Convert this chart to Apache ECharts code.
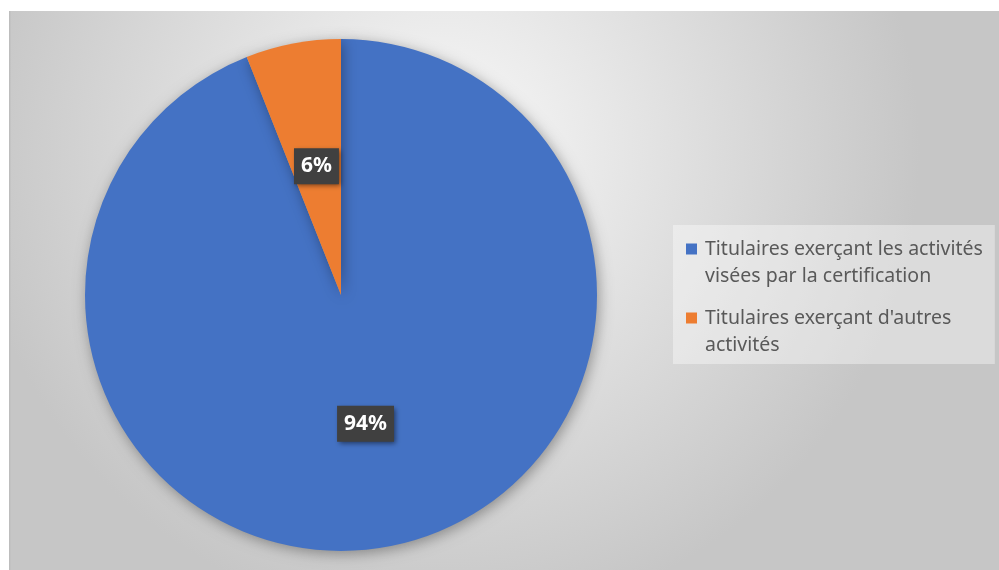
<!DOCTYPE html>
<html>
<head>
<meta charset="utf-8">
<script src="https://cdn.jsdelivr.net/npm/echarts@6/dist/echarts.min.js"></script>
<style>
html,body{margin:0;padding:0;background:#ffffff;}
#chart{width:999px;height:570px;}
</style>
</head>
<body>
<div id="chart"></div>
<script>
const categories = ['Titulaires exerçant les activités visées par la certification', "Titulaires exerçant d'autres activités"];
const legendLines = [['Titulaires exerçant les activités', 'visées par la certification'], ["Titulaires exerçant d'autres", 'activités']];
const values = [94, 6];
const colors = ['#4472c4', '#ed7d31'];

const chart = echarts.init(document.getElementById('chart'));
const FONT = '"Noto Sans", "Open Sans", sans-serif';

const option = {
  animation: false,
  graphic: [
    {
      type: 'rect', silent: true, z: -100,
      shape: { x: 9, y: 11, width: 990, height: 559 },
      style: {
        fill: new echarts.graphic.RadialGradient(0.44, 0.25, 0.85, [
          { offset: 0, color: '#f9f9f9' },
          { offset: 1, color: '#c6c6c6' }
        ])
      }
    },
    {
      type: 'rect', silent: true, z: -99,
      shape: { x: 9, y: 11, width: 1.5, height: 559 },
      style: { fill: '#bdbdbd' }
    }
  ],
  legend: {
    orient: 'vertical',
    left: 673,
    top: 225,
    padding: [14, 12, 9, 8],
    itemGap: 22,
    icon: 'none',
    itemWidth: 0,
    itemHeight: 0,
    backgroundColor: 'rgba(255,255,255,0.38)',
    selectedMode: false,
    data: categories,
    formatter: function (name) {
      const i = categories.indexOf(name);
      const l = legendLines[i];
      return '{m' + i + '|}{g|}{t|' + l[0] + '}\n{sp|}{t|' + l[1] + '}';
    },
    textStyle: {
      fontFamily: FONT,
      fontSize: 19.5,
      color: '#595959',
      rich: {
        m0: { width: 11, height: 11, backgroundColor: colors[0] },
        m1: { width: 11, height: 11, backgroundColor: colors[1] },
        g: { width: 8 },
        sp: { width: 19 },
        t: { fontFamily: FONT, fontSize: 19.5, color: '#595959', lineHeight: 27 }
      }
    }
  },
  series: [
    {
      type: 'pie',
      center: [341, 295],
      radius: 256,
      startAngle: 90,
      clockwise: true,
      color: colors,
      itemStyle: {
        shadowBlur: 14,
        shadowColor: 'rgba(0,0,0,0.35)',
        shadowOffsetX: 2,
        shadowOffsetY: 3
      },
      label: {
        show: true,
        position: 'inside',
        formatter: '{d}%',
        fontFamily: FONT,
        fontWeight: 'bold',
        fontSize: 21,
        lineHeight: 24,
        color: '#ffffff',
        backgroundColor: '#404040',
        padding: [6, 7, 6, 7],
        shadowBlur: 5,
        shadowColor: 'rgba(0,0,0,0.5)',
        shadowOffsetX: 2,
        shadowOffsetY: 2
      },
      labelLine: { show: false },
      emphasis: { disabled: true },
      data: categories.map((n, i) => ({ name: n, value: values[i] }))
    }
  ]
};
chart.setOption(option);
</script>
</body>
</html>
